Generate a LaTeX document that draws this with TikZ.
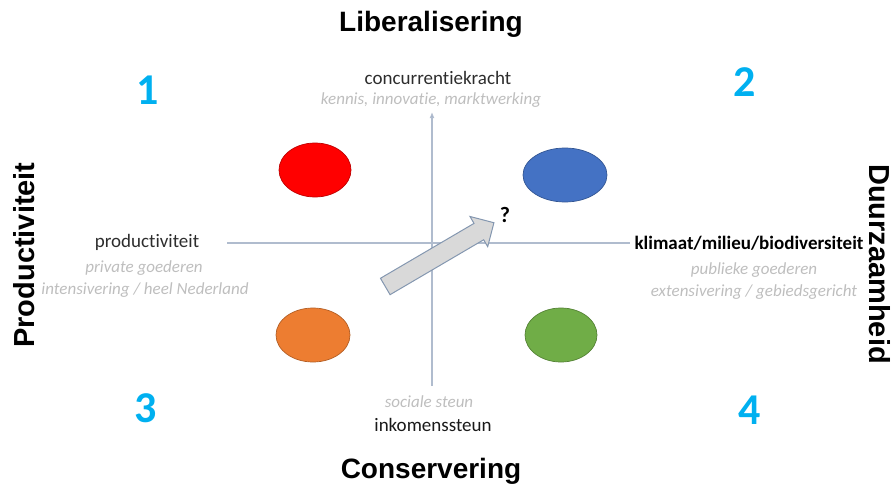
\documentclass[tikz,border=0pt]{standalone}
\usepackage{fontspec}
\setmainfont{Carlito}[Ligatures=NoCommon]
\newfontfamily\titlefont{Liberation Sans}
\usetikzlibrary{shapes.geometric, shapes.arrows, arrows.meta}

\definecolor{numblue}{RGB}{0,176,240}
\definecolor{axisgray}{RGB}{176,188,206}
\definecolor{tipblue}{RGB}{84,112,170}
\definecolor{maintext}{RGB}{45,45,45}
\definecolor{subtext}{RGB}{190,190,190}
\definecolor{blobred}{RGB}{255,0,0}
\definecolor{blobblue}{RGB}{68,114,196}
\definecolor{bloborange}{RGB}{237,125,49}
\definecolor{blobgreen}{RGB}{112,173,71}
\definecolor{shiftfill}{RGB}{217,217,217}
\definecolor{shiftline}{RGB}{132,151,176}

\tikzset{
  axistitle/.style={font=\titlefont\bfseries\fontsize{28}{30}\selectfont, inner sep=0pt},
  sidetitle/.style={font=\titlefont\bfseries\fontsize{29}{31}\selectfont, inner sep=0pt},
  quadnum/.style={font=\bfseries\fontsize{44}{48}\selectfont, text=numblue, inner sep=0pt},
  mainlbl/.style={font=\fontsize{19}{22}\selectfont, text=maintext, inner sep=0pt},
  sublbl/.style={font=\itshape\fontsize{17}{20}\selectfont, text=subtext, inner sep=0pt},
  blob/.style={ellipse, draw=#1!75!black, line width=0.7pt, fill=#1, minimum width=72pt, minimum height=54pt},
  axisline/.style={draw=axisgray, line width=1.2pt},
}

\begin{document}
\begin{tikzpicture}[x=1pt, y=-1pt]
\useasboundingbox (0,0) rectangle (895,490);

% titles of the four directions
\node (lib) [axistitle] at (431,24) {Liberalisering};
\node (cons) [axistitle] at (431,471) {Conservering};
\node (prod) [sidetitle, rotate=90] at (24,255) {Productiviteit};
\node (duur) [sidetitle, rotate=-90] at (880,264) {Duurzaamheid};

% quadrant numbers
\node (q1) [quadnum] at (148,90) {1};
\node (q2) [quadnum] at (745,82) {2};
\node (q3) [quadnum] at (146,408) {3};
\node (q4) [quadnum] at (750,410) {4};

% axis labels
\node (top) [mainlbl] at (438,78) {concurrentiekracht};
\node (topsub) [sublbl] at (431,100) {kennis, innovatie, marktwerking};
\node (left) [mainlbl] at (147,242) {productiviteit};
\node (leftsub1) [sublbl] at (144,268) {private goederen};
\node (leftsub2) [sublbl] at (145,290) {intensivering / heel Nederland};
\node (right) [mainlbl, font=\bfseries\fontsize{19}{22}\selectfont, text=black] at (749,243) {klimaat/milieu/biodiversiteit};
\node (rightsub1) [sublbl] at (754,270) {publieke goederen};
\node (rightsub2) [sublbl] at (754,292) {extensivering / gebiedsgericht};
\node (botsub) [sublbl] at (429,402) {sociale steun};
\node (bot) [mainlbl, text=black!90] at (433,425) {inkomenssteun};

% axes
\coordinate (vtop) at (432,112);
\coordinate (vbot) at (432,386);
\coordinate (hleft) at (227,243);
\coordinate (hright) at (630,243);
\draw [axisline] (hleft) -- (hright);
\draw [axisline, -{Latex[length=6pt, width=5pt, fill=tipblue]}] (vbot) -- (vtop);

% the four quadrant ellipses
\node (red) [blob=blobred] at (315,170) {};
\node (blue) [blob=blobblue, minimum width=84pt] at (565,175) {};
\node (orange) [blob=bloborange, minimum width=74pt] at (313,335) {};
\node (green) [blob=blobgreen] at (561,335) {};

% the shift
\node (shift) [single arrow, draw=shiftline, line width=1pt, fill=shiftfill,
  minimum height=126pt, minimum width=34pt, inner sep=9pt,
  single arrow head extend=8pt, rotate=30.4] at (435.5,257) {};
\node (quest) [font=\bfseries\fontsize{22}{24}\selectfont] at (505,215) {?};
\end{tikzpicture}
\end{document}
